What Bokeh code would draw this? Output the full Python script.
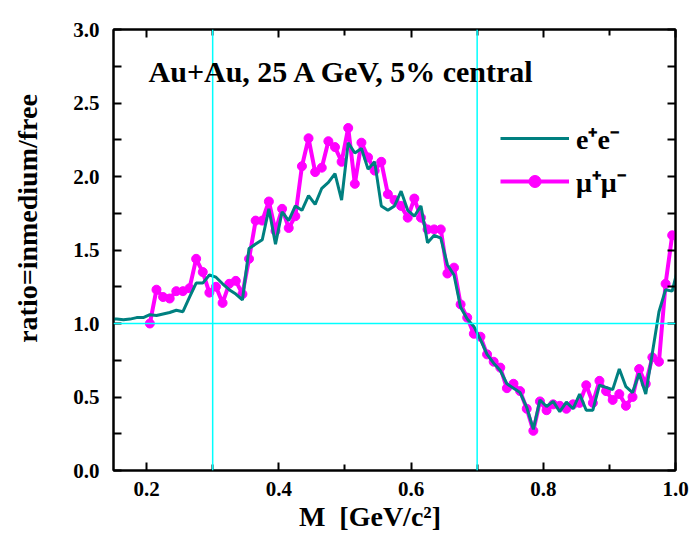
from bokeh.plotting import figure
from bokeh.models import (Span, Label, Legend, LegendItem, FixedTicker,
                          PrintfTickFormatter, LinearAxis, ColumnDataSource,
                          CustomJSTickFormatter)
from bokeh.embed import file_html
from bokeh.resources import INLINE

# ---------------- data ----------------
ee_mass = [0.145, 0.155, 0.165, 0.175, 0.185, 0.195, 0.205, 0.215, 0.225, 0.235,
           0.245, 0.255, 0.265, 0.275, 0.285, 0.295, 0.305, 0.315, 0.325, 0.335,
           0.345, 0.355, 0.365, 0.375, 0.385, 0.395, 0.405, 0.415, 0.425, 0.435,
           0.445, 0.455, 0.465, 0.475, 0.485, 0.495, 0.505, 0.515, 0.525, 0.535,
           0.545, 0.555, 0.565, 0.575, 0.585, 0.595, 0.605, 0.615, 0.625, 0.635,
           0.645, 0.655, 0.665, 0.675, 0.685, 0.695, 0.705, 0.715, 0.725, 0.735,
           0.745, 0.755, 0.765, 0.775, 0.785, 0.795, 0.805, 0.815, 0.825, 0.835,
           0.845, 0.855, 0.865, 0.875, 0.885, 0.895, 0.905, 0.915, 0.925, 0.935,
           0.945, 0.955, 0.965, 0.975, 0.985, 0.995, 1.005]
ee_ratio = [1.03, 1.03, 1.025, 1.03, 1.04, 1.04, 1.06, 1.055, 1.065, 1.075,
            1.09, 1.08, 1.18, 1.275, 1.275, 1.33, 1.315, 1.27, 1.23, 1.20,
            1.16, 1.51, 1.54, 1.57, 1.78, 1.54, 1.76, 1.70, 1.80, 1.77,
            1.87, 1.81, 1.92, 1.96, 2.02, 1.84, 2.23, 2.16, 2.19, 2.05,
            2.10, 1.80, 1.77, 1.80, 1.90, 1.77, 1.73, 1.80, 1.55, 1.60,
            1.58, 1.40, 1.33, 1.11, 1.03, 0.98, 0.89, 0.79, 0.73, 0.68,
            0.59, 0.56, 0.53, 0.43, 0.28, 0.48, 0.435, 0.47, 0.40, 0.465,
            0.42, 0.52, 0.41, 0.41, 0.58, 0.565, 0.55, 0.69, 0.57, 0.53,
            0.66, 0.52, 0.80, 1.08, 1.23, 1.22, 1.40]

mm_mass = [0.205, 0.215, 0.225, 0.235, 0.245, 0.255, 0.265, 0.275, 0.285, 0.295,
           0.305, 0.315, 0.325, 0.335, 0.345, 0.355, 0.365, 0.375, 0.385, 0.395,
           0.405, 0.415, 0.425, 0.435, 0.445, 0.455, 0.465, 0.475, 0.485, 0.495,
           0.505, 0.515, 0.525, 0.535, 0.545, 0.555, 0.565, 0.575, 0.585, 0.595,
           0.605, 0.615, 0.625, 0.635, 0.645, 0.655, 0.665, 0.675, 0.685, 0.695,
           0.705, 0.715, 0.725, 0.735, 0.745, 0.755, 0.765, 0.775, 0.785, 0.795,
           0.805, 0.815, 0.825, 0.835, 0.845, 0.855, 0.865, 0.875, 0.885, 0.895,
           0.905, 0.915, 0.925, 0.935, 0.945, 0.955, 0.965, 0.975, 0.985, 0.995]
mm_ratio = [1.00, 1.23, 1.18, 1.17, 1.22, 1.22, 1.24, 1.44, 1.35, 1.21,
            1.25, 1.14, 1.27, 1.29, 1.20, 1.44, 1.70, 1.70, 1.83, 1.63,
            1.78, 1.65, 1.73, 2.07, 2.26, 2.03, 2.06, 2.24, 2.20, 2.10,
            2.33, 1.95, 2.23, 2.13, 2.04, 2.10, 1.88, 1.84, 1.80, 1.72,
            1.85, 1.72, 1.64, 1.64, 1.64, 1.34, 1.38, 1.13, 1.04, 0.93,
            0.91, 0.79, 0.74, 0.70, 0.56, 0.59, 0.54, 0.42, 0.27, 0.47,
            0.41, 0.45, 0.44, 0.42, 0.45, 0.46, 0.58, 0.46, 0.61, 0.54,
            0.48, 0.52, 0.44, 0.50, 0.69, 0.59, 0.77, 0.74, 1.27, 1.60]

ref_x = [0.3, 0.7]
ref_y = [1.0]

x_ticks = [0.2, 0.4, 0.6, 0.8, 1.0]
x_minor = [0.3, 0.5, 0.7, 0.9]
y_ticks = [0.0, 0.5, 1.0, 1.5, 2.0, 2.5, 3.0]
y_minor = [0.25, 0.75, 1.25, 1.75, 2.25, 2.75]

NB = "\u00a0"
title_text = "Au+Au, 25 A GeV, 5% central"
x_label = "M" + NB * 2 + "[GeV/c\u00b2]" + NB * 7
y_label = NB * 9 + "ratio=inmedium/free"
ee_label = "e\u207ae\u207b"
mm_label = "\u03bc\u207a\u03bc\u207b"

TEAL = "#008080"
MAG = "#FF00FF"
CYAN = "#00FFFF"
FONT = "Liberation Serif"

# ---------------- figure ----------------
p = figure(width=690, height=538, x_range=(0.15, 1.0), y_range=(0.0, 3.0),
           output_backend="svg", toolbar_location=None,
           min_border_left=113, min_border_right=15,
           min_border_top=29, min_border_bottom=68,
           x_axis_location=None, y_axis_location=None)
p.grid.visible = False
p.outline_line_color = "black"
p.outline_line_width = 2
p.background_fill_color = "white"
p.border_fill_color = "white"


def style_axis(ax, ticks, minor, labels=True, major_in=8, minor_in=6):
    ax.ticker = FixedTicker(ticks=ticks, minor_ticks=minor)
    ax.axis_line_color = "black"
    ax.axis_line_width = 2
    ax.major_tick_line_color = "black"
    ax.major_tick_line_width = 2
    ax.minor_tick_line_color = "black"
    ax.minor_tick_line_width = 2
    ax.major_tick_in = major_in
    ax.major_tick_out = 0
    ax.minor_tick_in = minor_in
    ax.minor_tick_out = 0
    if labels:
        ax.formatter = PrintfTickFormatter(format="%.1f")
        ax.major_label_text_font = FONT
        ax.major_label_text_font_style = "bold"
        ax.major_label_text_font_size = "21px"
        ax.major_label_text_color = "black"
        ax.axis_label_text_font = FONT
        ax.axis_label_text_font_style = "bold"
        ax.axis_label_text_font_size = "28px"
        ax.axis_label_text_color = "black"
    else:
        ax.formatter = CustomJSTickFormatter(code="return ''")
        ax.major_label_standoff = 0


xb = LinearAxis(axis_label=x_label)
style_axis(xb, x_ticks, x_minor, True, 8, 6)
xb.major_label_standoff = 11
xb.axis_label_standoff = 2
p.add_layout(xb, "below")

yl = LinearAxis(axis_label=y_label)
style_axis(yl, y_ticks, y_minor, True, 8, 8)
yl.major_label_standoff = 14
yl.axis_label_standoff = 27
p.add_layout(yl, "left")

xt = LinearAxis()
style_axis(xt, x_ticks, x_minor, False, 8, 6)
p.add_layout(xt, "above")

yr = LinearAxis()
style_axis(yr, y_ticks, y_minor, False, 8, 8)
p.add_layout(yr, "right")

# reference lines
for xv in ref_x:
    p.add_layout(Span(location=xv, dimension="height", line_color=CYAN, line_width=1.5))
for yv in ref_y:
    p.add_layout(Span(location=yv, dimension="width", line_color=CYAN, line_width=1.5))

# data
mm_src = ColumnDataSource(dict(x=mm_mass, y=mm_ratio))
ee_src = ColumnDataSource(dict(x=ee_mass, y=ee_ratio))
p.line("x", "y", source=mm_src, line_color=MAG, line_width=4)
p.scatter("x", "y", source=mm_src, marker="circle", size=9,
          fill_color=MAG, line_color=MAG)
p.line("x", "y", source=ee_src, line_color=TEAL, line_width=3)

# legend-only renderers (no visible data)
nan_src = ColumnDataSource(dict(x=[float("nan")], y=[float("nan")]))
leg_ee = p.line("x", "y", source=nan_src, line_color=TEAL, line_width=3)
leg_mm_l = p.line("x", "y", source=nan_src, line_color=MAG, line_width=4)
leg_mm_d = p.scatter("x", "y", source=nan_src, marker="circle", size=18,
                     fill_color=MAG, line_color=MAG)

legend = Legend(items=[LegendItem(label=ee_label, renderers=[leg_ee]),
                       LegendItem(label=mm_label, renderers=[leg_mm_l, leg_mm_d])],
                location=(387, 270), glyph_width=69, glyph_height=30,
                label_height=30, spacing=5, padding=0, margin=0,
                label_standoff=7, background_fill_alpha=0,
                border_line_color=None,
                label_text_font=FONT, label_text_font_style="bold",
                label_text_font_size="28px", label_text_color="black")
p.add_layout(legend)

# title text inside the frame
p.add_layout(Label(x=0.203, y=2.714, text=title_text, text_font=FONT,
                   text_font_style="bold", text_font_size="30px",
                   text_color="black",
                   text_baseline="alphabetic", text_align="left"))

open("out.html", "w").write(file_html(p, INLINE))
